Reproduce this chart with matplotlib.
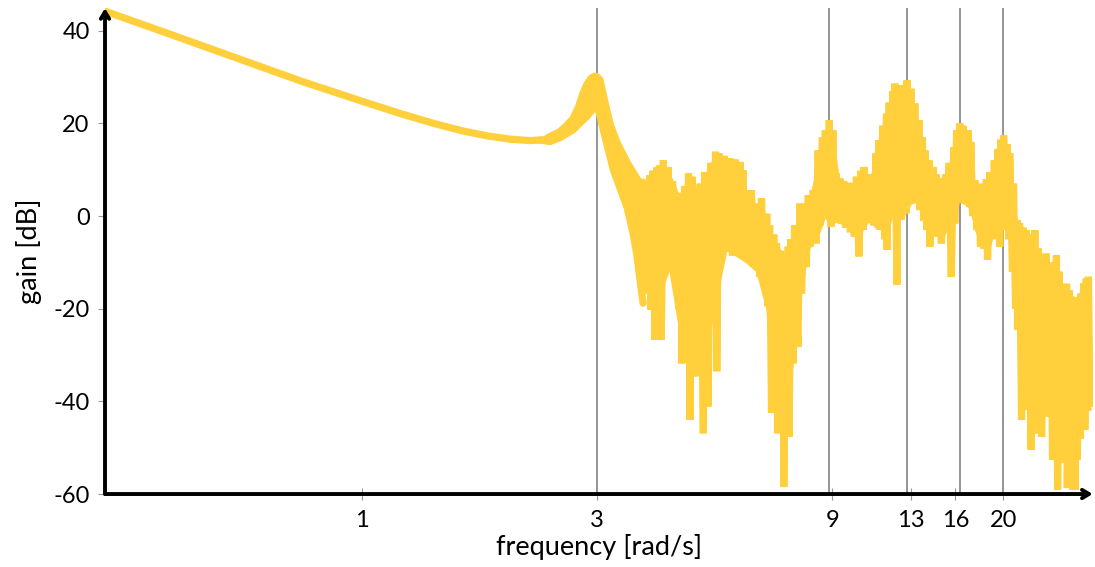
import numpy as np
import matplotlib.pyplot as plt

# smooth low-frequency part (rad/s, dB)
freq_low = [0.30, 0.40, 0.50, 0.60, 0.75, 0.90, 1.0, 1.2, 1.4, 1.6, 1.8, 2.0, 2.2, 2.35]
gain_low = [44.3, 39.6, 35.9, 32.9, 29.2, 26.4, 24.8, 22.1, 20.0, 18.4, 17.3, 16.6, 16.3, 16.5]

# first resonance: upper measurement
freq_res_up = [2.41, 2.52, 2.60, 2.68, 2.75, 2.81, 2.86, 2.92, 2.98, 3.04, 3.11, 3.19,
               3.29, 3.46, 3.63, 3.70]
gain_res_up = [17.2, 18.2, 19.5, 21.0, 23.5, 26.5, 28.4, 29.8, 30.3, 29.5, 24.8, 19.8,
               16.0, 11.4, 7.8, 7.0]

# first resonance: lower measurement
freq_res_lo = [2.30, 2.41, 2.52, 2.68, 2.86, 2.97, 3.02, 3.09, 3.24, 3.45, 3.55, 3.61, 3.72]
gain_res_lo = [16.4, 16.1, 16.9, 18.6, 21.5, 23.6, 23.0, 18.6, 9.9, 2.0, -3.7, -8.1, -18.8]

# noisy part 3.7 .. 9.3
freq_mid = [3.76, 3.80, 3.84, 3.86, 3.90, 3.93, 3.97, 4.00, 4.03, 4.05, 4.09, 4.13,
            4.18, 4.22, 4.27, 4.32, 4.35, 4.40, 4.45, 4.46, 4.52, 4.56, 4.60, 4.63,
            4.68, 4.74, 4.78, 4.82, 4.86, 4.93, 4.97, 5.04, 5.10, 5.16, 5.22, 5.25,
            5.30, 5.37, 5.43, 5.50, 5.58, 5.65, 5.72, 5.80, 5.85, 5.90, 5.93, 6.00,
            6.05, 6.13, 6.17, 6.25, 6.31, 6.42, 6.47, 6.57, 6.63, 6.67, 6.72, 6.78,
            6.85, 6.92, 6.94, 6.99, 7.05, 7.12, 7.16, 7.18, 7.25, 7.30, 7.33, 7.36,
            7.42, 7.50, 7.55, 7.67, 7.74, 7.80, 7.90, 7.97, 8.05, 8.11, 8.24, 8.35,
            8.43, 8.50, 8.60, 8.63, 8.72, 8.80, 8.88, 8.95, 9.03, 9.10, 9.17, 9.25]
gain_mid = [7.5, -12.0, 8.8, -20.2, 9.8, -26.7, 10.5, -15.0, 11.0, -26.7, 12.1, -12.0,
            10.6, -10.2, 7.5, -8.0, 4.9, -20.0, 5.0, -31.8, 6.5, -20.0, 9.2, -44.0,
            8.5, -34.6, 6.0, -18.0, 7.0, -46.9, 9.5, -41.1, 11.5, -22.0, 13.9, -33.5,
            13.6, -9.4, 13.0, -7.7, 12.5, -8.5, 12.2, -8.0, 11.7, -5.5, 9.9, -8.5,
            5.5, -9.4, 5.6, -11.0, 2.7, -13.1, 3.8, -15.0, 0.5, -19.5, -2.0, -42.5,
            -4.0, -30.0, -5.9, -46.9, -7.5, -35.0, -8.8, -58.4, -8.0, -40.0, -6.6, -47.6,
            -5.0, -31.8, -2.0, -28.2, 2.7, -16.7, 2.5, -11.0, 4.5, -6.6, 5.6, -5.9,
            14.2, -2.0, 17.0, -0.1, 18.5, 1.0, 20.7, -2.3, 18.5, -0.5, 9.2, -1.5]

# 9.3 .. 16.3
freq_hi = [9.33, 9.40, 9.50, 9.60, 9.70, 9.80, 9.93, 9.98, 10.08, 10.20, 10.30, 10.40,
           10.45, 10.55, 10.65, 10.73, 10.80, 10.95, 11.05, 11.16, 11.20, 11.24, 11.40,
           11.50, 11.60, 11.62, 11.75, 11.86, 11.95, 12.03, 12.06, 12.18, 12.25, 12.33,
           12.36, 12.41, 12.55, 12.70, 12.77, 12.90, 13.00, 13.12, 13.24, 13.35, 13.50,
           13.56, 13.70, 13.80, 13.88, 14.00, 14.15, 14.20, 14.43, 14.50, 14.62, 14.66,
           14.85, 14.99, 15.13, 15.20, 15.33, 15.37, 15.55, 15.70, 15.88, 15.96, 16.10,
           16.20]
gain_hi = [8.1, -1.6, 7.5, -2.5, 7.2, -3.5, 7.0, -4.4, 8.5, -8.7, 9.8, -3.0,
           10.6, -1.5, 9.0, -0.8, 8.5, -2.0, 13.5, -2.5, 16.4, -3.0, 19.5,
           -5.0, 22.1, -7.3, 24.5, -0.1, 27.0, 3.0, 28.6, -14.8, 27.5, 5.0,
           28.2, -0.8, 27.0, 0.6, 29.3, 3.5, 27.5, 2.8, 24.3, 3.5, 20.7,
           1.3, 17.0, -1.0, 14.2, -3.0, 12.0, -6.6, 10.6, -4.0, 9.0, -4.4,
           8.2, -5.9, 7.7, -3.5, 9.0, -3.0, 11.5, -13.1, 14.9, -1.6, 18.5,
           3.0]

# 16.3 .. 30
freq_top = [16.34, 16.40, 16.6, 16.8, 17.0, 17.12, 17.2, 17.35, 17.53, 17.7, 17.85, 18.0,
            18.06, 18.3, 18.5, 18.6, 18.8, 19.0, 19.2, 19.38, 19.5, 19.69, 19.8, 19.95,
            20.05, 20.3, 20.4, 20.55, 20.63, 20.9, 21.0, 21.2, 21.37, 21.45, 21.6, 21.8,
            21.95, 22.1, 22.3, 22.45, 22.6, 22.8, 22.95, 23.1, 23.2, 23.35, 23.55, 23.7,
            23.8, 23.95, 24.1, 24.3, 24.45, 24.6, 24.75, 24.9, 25.0, 25.2, 25.4, 25.6,
            25.66, 25.8, 26.0, 26.2, 26.3, 26.45, 26.6, 26.75, 26.9, 27.0, 27.2, 27.4,
            27.5, 27.75, 27.9, 28.0, 28.1, 28.3, 28.5, 28.7, 28.8, 29.0, 29.2, 29.3,
            29.5, 29.7, 29.8, 30.0]
gain_top = [20.0, 4.9, 19.5, 3.5, 18.5, 2.0, 16.0, 0.0, 7.7, -3.0, 7.0, -6.6,
            6.3, -7.0, 8.0, -9.4, 9.5, -4.4, 12.0, -5.0, 14.5, -6.6, 16.5, -3.0,
            17.4, -1.0, 15.5, -5.0, 13.5, -12.0, 7.0, -20.0, -0.9, -24.6, -1.5, -44.0,
            -2.5, -30.0, -3.1, -41.8, -4.0, -50.4, -4.5, -35.0, -3.1, -46.9, -7.0, -30.0,
            -9.5, -47.6, -9.0, -38.0, -8.1, -43.3, -10.0, -35.0, -11.7, -52.6, -10.0, -45.0,
            -8.5, -59.1, -12.0, -40.0, -16.0, -53.3, -15.0, -45.0, -14.6, -58.7, -16.0, -50.0,
            -17.4, -59.1, -18.5, -59.1, -18.9, -52.6, -17.5, -48.0, -16.7, -44.0, -14.5, -46.1,
            -13.5, -42.0, -13.1, -40.4]

# solid core where the measurements overlap (upper / lower edge)
freq_env = [2.35, 2.5, 2.6, 2.7, 2.8, 2.9, 3.0, 3.1, 3.2, 3.3, 3.4, 3.5, 3.6, 3.7,
            3.8, 4.0, 4.2, 4.4, 4.6, 4.8, 5.0, 5.2, 5.5, 5.8, 6.0, 6.3, 6.6, 6.9,
            7.2, 7.5, 7.8, 8.1, 8.4, 8.7, 8.9, 9.1, 9.3, 9.6, 9.9, 10.2, 10.4, 10.7,
            11.0, 11.3, 11.6, 11.9, 12.1, 12.4, 12.7, 13.0, 13.3, 13.6, 13.9, 14.2,
            14.5, 14.8, 15.1, 15.4, 15.7, 16.0, 16.3, 16.7, 17.1, 17.5, 17.9, 18.3,
            18.7, 19.1, 19.5, 19.9, 20.3, 20.6, 20.9, 21.2, 21.5, 21.8, 22.2, 22.6,
            23.0, 23.4, 23.8, 24.2, 24.6, 25.0, 25.4, 25.8, 26.2, 26.6, 27.0, 27.4,
            27.8, 28.2, 28.6, 29.0, 29.4, 29.8, 30.0]
env_upper = [16.4, 17.8, 19.3, 22.0, 26.0, 29.4, 30.0, 24.5, 19.3, 15.7, 13.0, 10.8, 8.3, 6.8,
             7.3, 10.8, 9.8, 4.8, 8.3, 5.3, 9.8, 13.3, 12.6, 11.3, 5.8, 2.8, 0.3, -5.7,
             -8.2, -3.2, 2.3, 4.3, 11.8, 17.8, 20.1, 15.8, 8.3, 7.3, 6.8, 8.3, 9.8, 8.3,
             11.8, 17.3, 21.8, 25.8, 28.3, 27.8, 28.8, 27.3, 22.8, 19.3, 13.8, 11.8,
             10.3, 8.3, 7.5, 9.3, 12.3, 16.8, 19.8, 18.8, 17.3, 7.8, 6.3, 6.8,
             8.8, 10.8, 14.3, 16.8, 15.3, 13.3, 5.8, 0.8, -1.2, -2.2, -3.2, -4.2,
             -4.2, -5.2, -9.7, -9.2, -8.7, -11.2, -10.2, -10.2, -14.2, -15.2, -15.7, -17.2,
             -18.7, -18.7, -17.2, -15.7, -14.2, -13.2, -12.7]
env_lower = [16.3, 16.7, 17.6, 18.8, 20.2, 22.3, 23.3, 18.5, 11.0, 6.5, 3.0, -3.0, -8.0, -16.0,
             -17.0, -18.0, -12.0, -25.0, -30.0, -30.0, -30.0, -20.0, -7.5, -9.0, -10.0, -12.0, -20.0, -42.0,
             -46.0, -32.0, -16.0, -7.0, -5.0, -0.5, -2.0, -1.0, -1.5, -2.5, -4.0, -5.0, -3.0, -1.0,
             -2.5, -3.0, -5.0, -0.5, -2.0, -0.5, 0.5, 2.5, 3.0, 1.0, -2.0, -5.0,
             -4.0, -4.5, -5.0, -3.0, -4.0, -1.5, 3.0, 2.5, 1.5, -3.0, -5.5, -7.0,
             -8.0, -4.5, -5.5, -3.0, -1.5, -6.0, -12.0, -18.0, -25.0, -32.0, -36.0, -38.0,
             -38.0, -40.0, -40.0, -38.0, -40.0, -42.0, -42.0, -45.0, -44.0, -46.0, -48.0, -48.0,
             -50.0, -48.0, -45.0, -44.0, -44.0, -40.0, -40.0]

res_lines = [3.0, 8.88, 12.76, 16.39, 20.0]
xticks = [1, 3, 9, 13, 16, 20]
yticks = [-60, -40, -20, 0, 20, 40]

freq_a = np.array(freq_low + freq_res_up + freq_mid + freq_hi + freq_top)
gain_a = np.array(gain_low + gain_res_up + gain_mid + gain_hi + gain_top)

yellow = '#ffcf3c'
plt.rcParams['font.family'] = ['Lato', 'DejaVu Sans']

fig = plt.figure(figsize=(10.95, 5.67), dpi=100)
ax = fig.add_axes([0.0959, 0.1287, 0.902, 0.857])

for f in res_lines:
    ax.axvline(f, color='#8c8c8c', lw=1.3, zorder=1)

ax.fill_between(freq_env, env_lower, env_upper, color=yellow, lw=0, zorder=2)
ax.plot(freq_res_lo, gain_res_lo, color=yellow, lw=5.2, solid_joinstyle='round',
        solid_capstyle='round', zorder=2)
ax.plot(freq_a, gain_a, color=yellow, lw=5.2, solid_joinstyle='bevel', zorder=2)

ax.set_xscale('log')
ax.set_xlim(0.3012, 30.4)
ax.set_ylim(-60, 44.9)

ax.set_xticks(xticks)
ax.set_xticklabels([str(t) for t in xticks])
ax.xaxis.set_minor_locator(plt.NullLocator())
ax.set_yticks(yticks)
ax.set_yticklabels([str(t) for t in yticks])

ax.tick_params(axis='x', direction='inout', length=9, width=0.8, color='#999999',
               labelsize=17, pad=7)
ax.tick_params(axis='y', direction='out', length=5, width=0.8, color='#999999',
               labelsize=17, pad=6)

for s in ax.spines.values():
    s.set_visible(False)

# axis arrows
ax.annotate('', xy=(1.0, 0), xytext=(0, 0), xycoords='axes fraction',
            arrowprops=dict(arrowstyle='->,head_length=0.5,head_width=0.3', lw=2.8,
                            color='black', shrinkA=0, shrinkB=0), zorder=5)
ax.annotate('', xy=(0, 1.0), xytext=(0, 0), xycoords='axes fraction',
            arrowprops=dict(arrowstyle='->,head_length=0.5,head_width=0.3', lw=2.8,
                            color='black', shrinkA=0, shrinkB=0), zorder=5)

ax.set_xlabel('frequency [rad/s]', fontsize=19.5, labelpad=2)
ax.set_ylabel('gain [dB]', fontsize=19.5, labelpad=8)

fig.savefig('out.png', dpi=100)
